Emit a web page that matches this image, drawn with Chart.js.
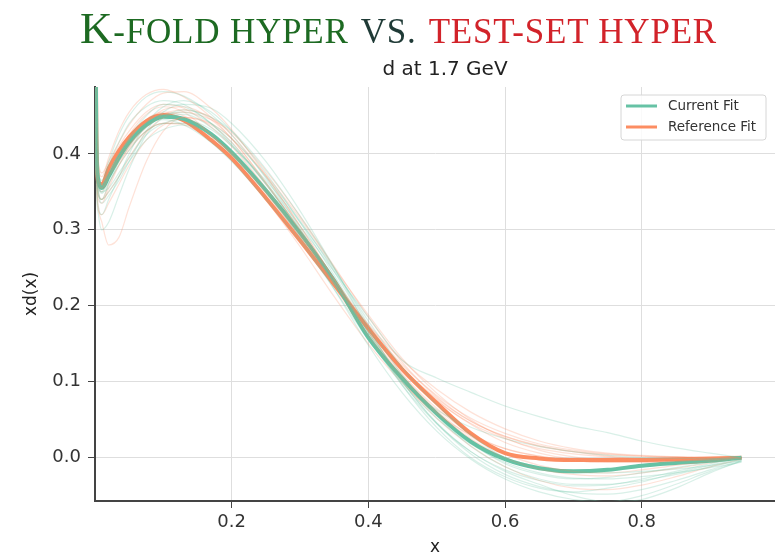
<!DOCTYPE html>
<html>
<head>
<meta charset="utf-8">
<script src="https://cdn.jsdelivr.net/npm/chart.js@4.4.0/dist/chart.umd.min.js"></script>
<style>
  html, body { margin: 0; padding: 0; background: #fff; }
  #wrap { position: relative; width: 775px; height: 554px; overflow: hidden; }
  #c { position: absolute; left: 0; top: 0; }
  #heading {
    position: absolute; left: 80px; top: 5px; white-space: nowrap;
    font-family: "Liberation Serif", "DejaVu Serif", serif;
    font-size: 45px; line-height: 46px; letter-spacing: 0.8px;
  }
  #heading .sc { font-size: 35px; }
  #heading .kf { color: #1d6a22; }
  #heading .vs { color: #1f3a36; }
  #heading .ts { color: #d2232a; }
  #subtitle {
    position: absolute; left: 0; width: 890px; top: 57px; text-align: center;
    font-family: "DejaVu Sans", sans-serif; font-size: 20px; line-height: 22px; color: #222;
  }
</style>
</head>
<body>
<div id="wrap">
  <canvas id="c" width="775" height="554"></canvas>
  <div id="heading"><span class="kf">K<span class="sc">-FOLD HYPER</span></span> <span class="vs sc">VS.</span>&nbsp;<span class="ts sc">TEST-SET HYPER</span></div>
  <div id="subtitle">d at 1.7 GeV</div>
</div>
<script>
// x grid shared by every curve
const xGrid = [0.0002, 0.002, 0.005, 0.01, 0.02, 0.035, 0.05, 0.075, 0.1, 0.13, 0.17, 0.2, 0.25, 0.3, 0.35, 0.4, 0.45, 0.5, 0.55, 0.6, 0.65, 0.7, 0.75, 0.8, 0.85, 0.9, 0.946];

// central curves
const currentFit   = [0.62, 0.42, 0.365, 0.355, 0.37, 0.395, 0.415, 0.438, 0.449, 0.446, 0.426, 0.402, 0.352, 0.296, 0.233, 0.158, 0.104, 0.058, 0.021, -0.002, -0.014, -0.018, -0.016, -0.0105, -0.007, -0.004, 0.0];
const referenceFit = [0.65, 0.43, 0.362, 0.36, 0.381, 0.404, 0.422, 0.443, 0.451, 0.444, 0.418, 0.394, 0.342, 0.286, 0.228, 0.170, 0.116, 0.072, 0.032, 0.006, -0.001, -0.003, -0.003, -0.003, -0.002, -0.001, 0.0];

// individual replicas
const currentReplicas = [
  [0.58, 0.40, 0.35, 0.34, 0.36, 0.39, 0.42, 0.45, 0.465, 0.462, 0.44, 0.412, 0.36, 0.30, 0.235, 0.165, 0.105, 0.058, 0.02, -0.008, -0.022, -0.028, -0.026, -0.02, -0.013, -0.006, 0.0],
  [0.66, 0.44, 0.37, 0.35, 0.355, 0.375, 0.395, 0.425, 0.44, 0.445, 0.432, 0.41, 0.365, 0.31, 0.248, 0.18, 0.118, 0.07, 0.03, 0.0, -0.015, -0.02, -0.018, -0.012, -0.007, -0.003, 0.0],
  [0.55, 0.38, 0.33, 0.32, 0.34, 0.37, 0.40, 0.44, 0.462, 0.47, 0.455, 0.43, 0.375, 0.31, 0.24, 0.165, 0.095, 0.04, 0.0, -0.025, -0.04, -0.045, -0.04, -0.032, -0.02, -0.01, -0.002],
  [0.62, 0.42, 0.36, 0.355, 0.375, 0.40, 0.42, 0.44, 0.445, 0.438, 0.415, 0.39, 0.34, 0.285, 0.222, 0.155, 0.1, 0.063, 0.04, 0.025, 0.015, 0.008, 0.003, 0.0, -0.001, -0.001, 0.0],
  [0.6, 0.41, 0.355, 0.35, 0.37, 0.395, 0.415, 0.44, 0.452, 0.452, 0.435, 0.412, 0.362, 0.305, 0.245, 0.185, 0.128, 0.105, 0.086, 0.068, 0.054, 0.042, 0.033, 0.022, 0.013, 0.006, 0.0],
  [0.7, 0.46, 0.38, 0.36, 0.37, 0.39, 0.41, 0.435, 0.45, 0.455, 0.44, 0.42, 0.37, 0.312, 0.245, 0.17, 0.1, 0.045, 0.005, -0.022, -0.038, -0.046, -0.048, -0.042, -0.03, -0.016, -0.004],
  [0.5, 0.36, 0.32, 0.30, 0.31, 0.345, 0.38, 0.425, 0.448, 0.458, 0.448, 0.43, 0.38, 0.318, 0.25, 0.175, 0.108, 0.055, 0.015, -0.012, -0.028, -0.035, -0.035, -0.03, -0.022, -0.012, -0.003],
  [0.64, 0.43, 0.37, 0.36, 0.385, 0.415, 0.44, 0.462, 0.47, 0.465, 0.44, 0.415, 0.36, 0.298, 0.23, 0.158, 0.098, 0.052, 0.018, -0.006, -0.02, -0.027, -0.028, -0.025, -0.02, -0.013, -0.006],
  [0.56, 0.39, 0.345, 0.34, 0.35, 0.37, 0.39, 0.418, 0.432, 0.438, 0.425, 0.405, 0.355, 0.295, 0.228, 0.158, 0.095, 0.045, 0.008, -0.018, -0.035, -0.05, -0.058, -0.055, -0.04, -0.02, -0.004],
  [0.68, 0.45, 0.375, 0.365, 0.39, 0.425, 0.45, 0.475, 0.482, 0.476, 0.452, 0.425, 0.368, 0.302, 0.232, 0.162, 0.102, 0.056, 0.022, 0.0, -0.012, -0.018, -0.02, -0.018, -0.015, -0.01, -0.004],
  [0.6, 0.41, 0.35, 0.335, 0.345, 0.365, 0.39, 0.43, 0.455, 0.465, 0.46, 0.44, 0.39, 0.325, 0.25, 0.17, 0.1, 0.046, 0.008, -0.016, -0.03, -0.037, -0.036, -0.028, -0.018, -0.008, 0.0],
  [0.62, 0.42, 0.36, 0.348, 0.362, 0.385, 0.405, 0.43, 0.44, 0.44, 0.425, 0.402, 0.35, 0.29, 0.222, 0.148, 0.085, 0.035, -0.002, -0.028, -0.045, -0.055, -0.058, -0.05, -0.035, -0.018, -0.005]
];
const referenceReplicas = [
  [0.55, 0.38, 0.33, 0.31, 0.28, 0.29, 0.33, 0.39, 0.43, 0.448, 0.438, 0.415, 0.36, 0.30, 0.235, 0.17, 0.11, 0.065, 0.032, 0.012, 0.002, -0.004, -0.006, -0.006, -0.004, -0.002, 0.0],
  [0.64, 0.43, 0.365, 0.36, 0.385, 0.41, 0.43, 0.455, 0.465, 0.46, 0.435, 0.41, 0.355, 0.295, 0.23, 0.168, 0.115, 0.075, 0.045, 0.025, 0.012, 0.005, 0.001, -0.001, -0.001, 0.0, 0.0],
  [0.7, 0.47, 0.39, 0.375, 0.39, 0.415, 0.438, 0.465, 0.48, 0.482, 0.46, 0.432, 0.372, 0.305, 0.235, 0.172, 0.118, 0.076, 0.044, 0.02, 0.006, -0.002, -0.005, -0.005, -0.004, -0.002, 0.0],
  [0.58, 0.4, 0.345, 0.34, 0.36, 0.385, 0.405, 0.43, 0.44, 0.438, 0.418, 0.395, 0.345, 0.29, 0.23, 0.175, 0.128, 0.09, 0.06, 0.038, 0.022, 0.012, 0.006, 0.003, 0.001, 0.0, 0.0],
  [0.62, 0.42, 0.36, 0.355, 0.375, 0.395, 0.412, 0.435, 0.452, 0.458, 0.448, 0.425, 0.37, 0.305, 0.235, 0.165, 0.105, 0.06, 0.025, 0.0, -0.015, -0.022, -0.024, -0.02, -0.014, -0.007, 0.0],
  [0.66, 0.44, 0.37, 0.36, 0.375, 0.4, 0.425, 0.452, 0.462, 0.455, 0.425, 0.398, 0.34, 0.278, 0.212, 0.15, 0.098, 0.058, 0.03, 0.012, 0.002, -0.004, -0.006, -0.006, -0.005, -0.003, 0.0],
  [0.52, 0.37, 0.325, 0.32, 0.335, 0.36, 0.385, 0.418, 0.438, 0.448, 0.44, 0.42, 0.372, 0.315, 0.25, 0.188, 0.13, 0.085, 0.05, 0.026, 0.01, 0.001, -0.003, -0.004, -0.003, -0.002, 0.0],
  [0.6, 0.41, 0.355, 0.35, 0.37, 0.395, 0.418, 0.445, 0.455, 0.45, 0.425, 0.4, 0.348, 0.29, 0.225, 0.16, 0.1, 0.052, 0.015, -0.012, -0.03, -0.04, -0.042, -0.036, -0.025, -0.012, -0.002],
  [0.68, 0.45, 0.38, 0.37, 0.395, 0.43, 0.455, 0.478, 0.485, 0.475, 0.448, 0.42, 0.362, 0.3, 0.235, 0.175, 0.122, 0.082, 0.052, 0.032, 0.018, 0.01, 0.005, 0.002, 0.001, 0.0, 0.0],
  [0.6, 0.41, 0.35, 0.34, 0.35, 0.37, 0.395, 0.428, 0.448, 0.455, 0.445, 0.428, 0.378, 0.318, 0.252, 0.185, 0.125, 0.08, 0.048, 0.028, 0.016, 0.008, 0.002, -0.002, -0.004, -0.003, 0.0],
  [0.63, 0.43, 0.365, 0.355, 0.37, 0.39, 0.408, 0.43, 0.44, 0.44, 0.422, 0.402, 0.35, 0.292, 0.23, 0.17, 0.118, 0.078, 0.048, 0.028, 0.015, 0.008, 0.004, 0.002, 0.001, 0.0, 0.0],
  [0.57, 0.39, 0.34, 0.335, 0.355, 0.385, 0.41, 0.44, 0.458, 0.462, 0.445, 0.42, 0.362, 0.298, 0.23, 0.165, 0.108, 0.062, 0.028, 0.005, -0.01, -0.018, -0.02, -0.016, -0.01, -0.005, 0.0]
];

const xTicks = [0.2, 0.4, 0.6, 0.8];
const yTicks = [0.0, 0.1, 0.2, 0.3, 0.4];
const seriesNames = ['Current Fit', 'Reference Fit'];

const GREEN = '102,194,165';
const ORANGE = '252,141,98';

const toPoints = ys => ys.map((y, i) => ({ x: xGrid[i], y }));

const datasets = [];
currentReplicas.forEach(r => datasets.push({
  label: 'replica', data: toPoints(r), borderColor: `rgba(${GREEN},0.25)`,
  borderWidth: 1.2, pointRadius: 0, cubicInterpolationMode: 'monotone'
}));
referenceReplicas.forEach(r => datasets.push({
  label: 'replica', data: toPoints(r), borderColor: `rgba(${ORANGE},0.25)`,
  borderWidth: 1.2, pointRadius: 0, cubicInterpolationMode: 'monotone'
}));
datasets.push({
  label: seriesNames[0], data: toPoints(currentFit), borderColor: `rgb(${GREEN})`,
  borderWidth: 4, pointRadius: 0, cubicInterpolationMode: 'monotone'
});
datasets.push({
  label: seriesNames[1], data: toPoints(referenceFit), borderColor: `rgb(${ORANGE})`,
  borderWidth: 4, pointRadius: 0, cubicInterpolationMode: 'monotone'
});

// legend box in the upper right of the plot area
const legendBox = {
  id: 'legendBox',
  afterDraw(chart) {
    const { ctx, chartArea } = chart;
    const w = 145, h = 45;
    const x0 = chartArea.right - 9 - w, y0 = chartArea.top + 8;
    ctx.save();
    ctx.beginPath();
    ctx.roundRect(x0, y0, w, h, 3);
    ctx.fillStyle = 'rgba(255,255,255,0.85)';
    ctx.fill();
    ctx.strokeStyle = '#d6d6d6';
    ctx.lineWidth = 1;
    ctx.stroke();
    const colors = [`rgb(${GREEN})`, `rgb(${ORANGE})`];
    seriesNames.forEach((name, i) => {
      const yy = y0 + 11 + i * 21;
      ctx.beginPath();
      ctx.moveTo(x0 + 5, yy);
      ctx.lineTo(x0 + 36, yy);
      ctx.strokeStyle = colors[i];
      ctx.lineWidth = 3;
      ctx.stroke();
      ctx.fillStyle = '#333';
      ctx.font = '13.5px "DejaVu Sans"';
      ctx.textBaseline = 'middle';
      ctx.fillText(name, x0 + 47, yy);
    });
    ctx.restore();
  }
};

const tickFont = { family: 'DejaVu Sans', size: 18 };
const axisColor = '#444';
const gridColor = '#dedede';

new Chart(document.getElementById('c'), {
  type: 'line',
  data: { datasets },
  plugins: [legendBox],
  options: {
    responsive: false,
    animation: false,
    events: [],
    layout: { padding: { top: 87, left: 0, right: 0, bottom: 0 } },
    plugins: {
      legend: { display: false },
      tooltip: { enabled: false },
      title: { display: false }
    },
    scales: {
      x: {
        type: 'linear', min: 0, max: 0.995,
        afterBuildTicks: s => { s.ticks = xTicks.map(v => ({ value: v })); },
        afterFit: s => { s.height = 53; },
        ticks: { font: tickFont, color: '#333', padding: 4, maxRotation: 0,
                 callback: v => v.toFixed(1) },
        grid: { color: gridColor, tickColor: axisColor, tickLength: 7, lineWidth: 1 },
        border: { color: axisColor, width: 2 },
        title: { display: true, text: 'x', color: '#222',
                 font: { family: 'DejaVu Sans', size: 17, lineHeight: 1 },
                 padding: { top: 0, bottom: -2 } }
      },
      y: {
        type: 'linear', min: -0.057, max: 0.488,
        afterBuildTicks: s => { s.ticks = yTicks.map(v => ({ value: v })); },
        afterFit: s => { s.width = 95; },
        ticks: { font: tickFont, color: '#333', padding: 7,
                 callback: v => v.toFixed(1) },
        grid: { color: gridColor, tickColor: axisColor, tickLength: 7, lineWidth: 1 },
        border: { color: axisColor, width: 2 },
        title: { display: true, text: 'xd(x)', color: '#222',
                 font: { family: 'DejaVu Sans', size: 17, lineHeight: 1 },
                 padding: { top: 23, bottom: 0 } }
      }
    }
  }
});
</script>
</body>
</html>
